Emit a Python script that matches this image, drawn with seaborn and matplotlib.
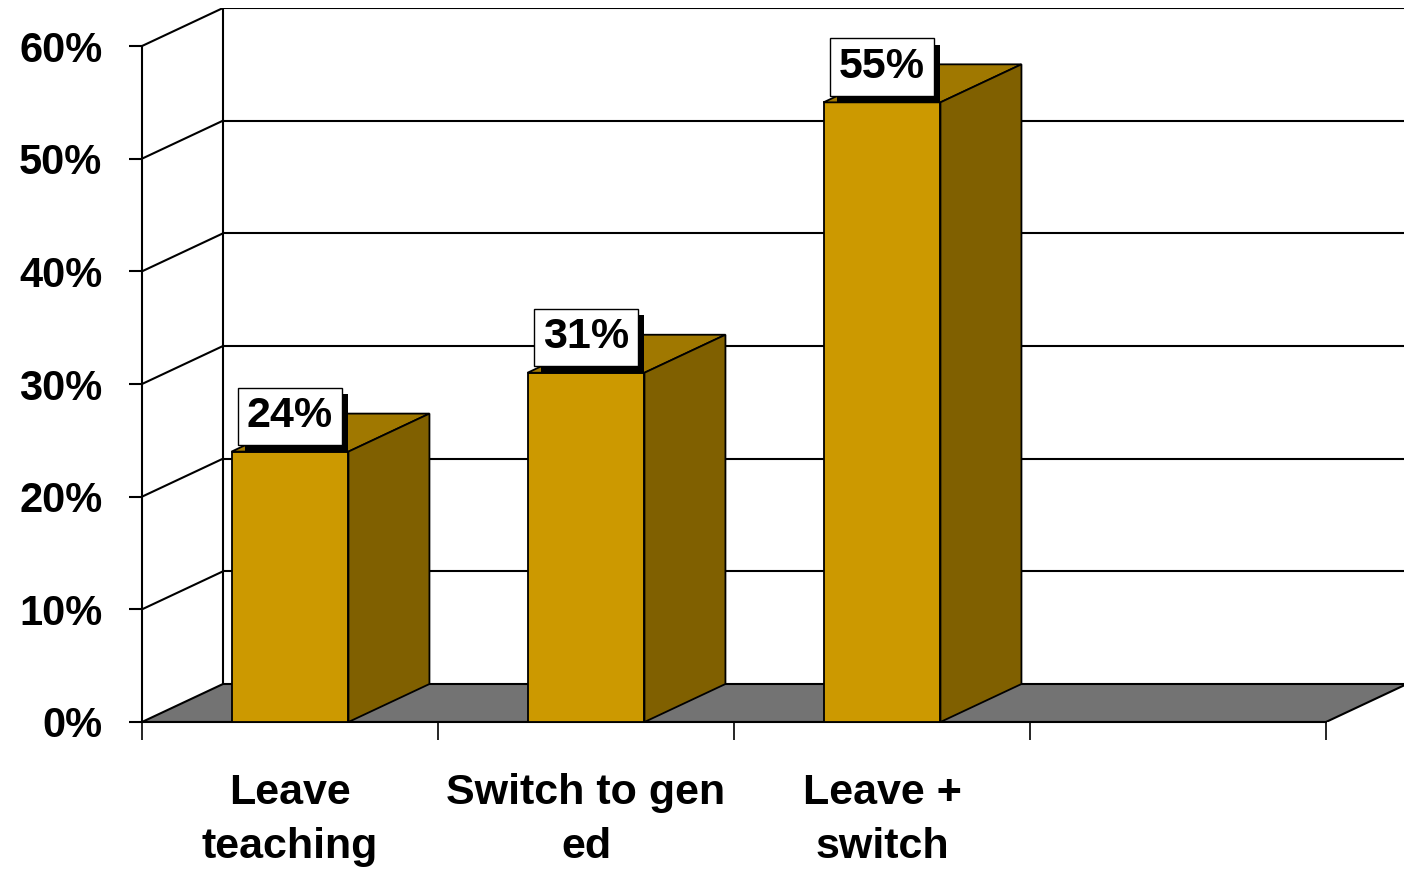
import numpy as np
import pandas as pd
import matplotlib
matplotlib.use("Agg")
import matplotlib.pyplot as plt
import matplotlib.patheffects as pe
from matplotlib.patches import Polygon
import seaborn as sns

categories = ["Leave\nteaching", "Switch to gen\ned", "Leave +\nswitch"]
values = [24, 31, 55]
labels = ["24%", "31%", "55%"]
yticks = [0, 10, 20, 30, 40, 50, 60]
ytick_labels = ["0%", "10%", "20%", "30%", "40%", "50%", "60%"]

sns.set_theme(style="white")
plt.rcParams['font.family'] = ['Liberation Sans', 'DejaVu Sans']
plt.rcParams['text.color'] = 'black'
plt.rcParams['xtick.color'] = 'black'
plt.rcParams['ytick.color'] = 'black'

front = '#CC9900'
top = '#A07800'
side = '#806000'
floor_col = '#737373'

# depth of the fake 3d box, in data units
dx = 0.2736
dy = 3.373
n_slots = 4

fig = plt.figure(figsize=(14.04, 8.69), dpi=100)
ax = fig.add_axes([0.10114, 0.16916, 0.89886, 0.82163])

df = pd.DataFrame({'cat': categories, 'val': values})
sns.barplot(data=df, x='cat', y='val', color=front, saturation=1,
            width=0.395, edgecolor='black', linewidth=1.3, zorder=3, ax=ax)

x0, x1 = -0.5, n_slots - 0.5

# floor
ax.add_patch(Polygon([(x0, 0), (x1, 0), (x1 + dx, dy), (x0 + dx, dy)],
                     closed=True, facecolor=floor_col, edgecolor='black',
                     linewidth=1.5, zorder=1))

# back wall grid + left wall diagonals
for t in yticks[1:]:
    ax.plot([x0 + dx, x1 + dx + 1], [t + dy, t + dy], color='black', lw=1.5, zorder=1.5)
    ax.plot([x0, x0 + dx], [t, t + dy], color='black', lw=1.5, zorder=1.5)
ax.plot([x0 + dx, x0 + dx], [dy, yticks[-1] + dy], color='black', lw=1.5, zorder=1.5)

# top and side faces of bars
for p in ax.patches[:]:
    if not hasattr(p, 'get_width') or p.get_height() <= 0:
        continue
    bx, bw, bh = p.get_x(), p.get_width(), p.get_height()
    ax.add_patch(Polygon([(bx, bh), (bx + bw, bh), (bx + bw + dx, bh + dy), (bx + dx, bh + dy)],
                         closed=True, facecolor=top, edgecolor='black', linewidth=1.3, zorder=3))
    ax.add_patch(Polygon([(bx + bw, 0), (bx + bw + dx, dy), (bx + bw + dx, bh + dy), (bx + bw, bh)],
                         closed=True, facecolor=side, edgecolor='black', linewidth=1.3, zorder=3))

# value labels
for i, (v, lab) in enumerate(zip(values, labels)):
    t = ax.annotate(lab, xy=(i, v), xytext=(0, 11), textcoords='offset points',
                    ha='center', va='bottom', fontsize=31, fontweight='bold', color='black',
                    bbox=dict(boxstyle='square,pad=0.2', facecolor='white', edgecolor='black', linewidth=1),
                    zorder=6)
    t.get_bbox_patch().set_path_effects([
        pe.SimplePatchShadow(offset=(4.5, -4.5), shadow_rgbFace='black', alpha=1),
        pe.Normal()])

ax.set_xlim(x0, x1 + 78 / 296)
ax.set_ylim(0, yticks[-1] + dy)

for s in ['top', 'right']:
    ax.spines[s].set_visible(False)
for s in ['left', 'bottom']:
    ax.spines[s].set_color('black')
    ax.spines[s].set_linewidth(1.5)
ax.spines['left'].set_bounds(0, yticks[-1])
ax.spines['bottom'].set_bounds(x0, x1)

ax.set_yticks(yticks)
ax.set_yticklabels(ytick_labels, fontsize=30, fontweight='bold', color='black')
ax.tick_params(axis='y', direction='out', length=9.5, width=1.5, color='black', pad=19, left=True)

ax.set_xticks(range(len(categories)))
ax.set_xticklabels(categories, fontsize=31, fontweight='bold', linespacing=1.45, color='black')
ax.set_xticks(np.arange(x0, x1 + 0.01, 1), minor=True)
ax.tick_params(axis='x', which='major', length=0, pad=37)
ax.tick_params(axis='x', which='minor', direction='out', length=13, width=1.2,
               color='black', bottom=True)
ax.set_xlabel('')
ax.set_ylabel('')

fig.savefig('out.png', dpi=100)
